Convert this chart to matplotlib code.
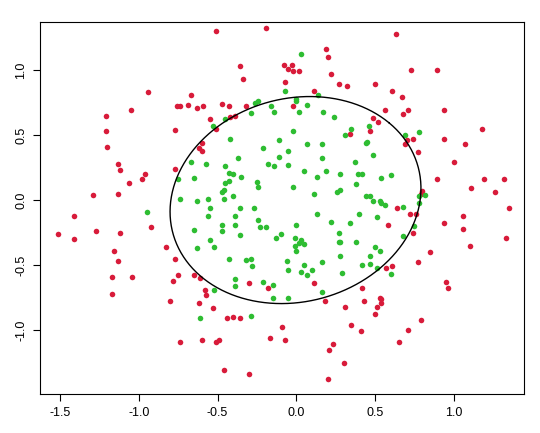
import matplotlib
matplotlib.use('Agg')
import matplotlib.pyplot as plt
import numpy as np

# points outside the fitted ellipse (red)
red_x = [-0.51, -0.19, -0.36, -0.34, -0.08, -0.05, -0.07, -0.94, -0.67, -0.76, -0.74, -0.69,
         -0.63, -0.59, -0.47, -0.43, -0.32, -0.39, -0.42, -0.55, -0.51, -1.05, -1.21, -1.21,
         -1.20, -0.77, -0.60, -0.62, -0.60, -1.13, -1.12, -0.96, -0.98, -1.06, -0.77, -1.29,
         -1.13,
         0.63, 0.19, 0.20, -0.03, -0.02, 0.02, 0.22, 0.73, 0.89, 0.27, 0.32, 0.50, 0.11, 0.61,
         0.67, -0.02, 0.56, 0.71, 0.68, 0.94, 0.49, 0.52, 0.47, 0.34, 1.18, 0.74, 0.70, 0.69,
         0.94, 1.07, 0.77, 1.00, 0.89, 1.19, 1.32, 1.11, 1.26, 0.80, 0.79, 1.35, 0.64,
         -1.41, -1.51, -1.41, -1.27, -1.12, -0.92, -1.16, -1.13, -1.17, -1.04, -1.17, -0.83,
         -0.77, -0.75, -0.78, -0.65, -0.61, -0.58, -0.57, -0.80, -0.62, -0.53, -0.44, -0.40,
         -0.36, -0.30, -0.18, -0.09, -0.17, -0.07, -0.74, -0.60, -0.51, -0.49, -0.46, -0.30,
         0.72, 0.76, 0.58, 0.74, 0.94, 1.06, 1.06, 1.33, 1.10, 0.85, 0.77, 0.61, 0.57, 0.11,
         0.95, 0.96, 0.42, 0.53, 0.54, 0.54, 0.43, 0.18, 0.31, 0.51, 0.50, 0.79, 0.35, 0.41,
         0.71, 0.65, 0.23, 0.21, 0.30, 0.20]
red_y = [1.30, 1.32, 1.03, 0.93, 1.04, 1.01, 0.91, 0.83, 0.81, 0.72, 0.72, 0.73,
         0.71, 0.72, 0.74, 0.72, 0.72, 0.65, 0.64, 0.62, 0.55, 0.69, 0.65, 0.53,
         0.41, 0.54, 0.44, 0.40, 0.38, 0.28, 0.23, 0.20, 0.16, 0.13, 0.24, 0.04,
         0.05,
         1.28, 1.16, 1.10, 1.04, 0.99, 0.99, 0.97, 1.00, 1.00, 0.89, 0.88, 0.89, 0.84, 0.84,
         0.79, 0.72, 0.69, 0.69, 0.66, 0.69, 0.63, 0.60, 0.53, 0.51, 0.55, 0.47, 0.46, 0.43,
         0.47, 0.43, 0.37, 0.29, 0.16, 0.16, 0.16, 0.09, 0.06, 0.07, 0.05, -0.06, -0.06,
         -0.12, -0.26, -0.30, -0.24, -0.25, -0.21, -0.39, -0.47, -0.59, -0.59, -0.72, -0.36,
         -0.45, -0.58, -0.62, -0.58, -0.60, -0.69, -0.73, -0.78, -0.79, -0.83, -0.91, -0.90,
         -0.91, -0.64, -0.68, -0.98, -1.06, -1.08, -1.09, -1.08, -1.09, -1.08, -1.31, -1.34,
         -0.11, -0.11, -0.19, -0.25, -0.18, -0.12, -0.22, -0.29, -0.35, -0.40, -0.48, -0.51,
         -0.52, -0.64, -0.63, -0.68, -0.68, -0.75, -0.76, -0.79, -0.78, -0.78, -0.82, -0.82,
         -0.88, -0.92, -0.96, -1.01, -1.00, -1.09, -1.11, -1.15, -1.25, -1.38]

# points inside the fitted ellipse (green)
green_x = [-0.07, -0.24, -0.26, -0.16, -0.14, -0.29, -0.45, -0.53, -0.42, -0.11, -0.21, -0.05,
           -0.37, -0.11, -0.18, -0.14, -0.05, -0.67, -0.57, -0.45, -0.43, -0.40, -0.35, -0.65,
           -0.75, -0.43, -0.45, -0.25, -0.24, -0.46, -0.47, -0.40, -0.46, -0.74, -0.63, -0.56,
           -0.55, -0.36, -0.27,
           0.03, 0.14, 0.00, 0.00, 0.07, 0.02, 0.17, 0.24, 0.35, 0.31, 0.46, 0.69, 0.78, 0.45,
           0.44, -0.02, 0.07, 0.16, 0.49, 0.16, 0.37, 0.05, 0.19, 0.13, 0.28, 0.39, 0.42, 0.54,
           0.60, 0.38, -0.02, 0.28, 0.26, 0.11, 0.44, 0.47, 0.49, 0.53, 0.54, 0.56, 0.68, 0.78,
           0.82, 0.78,
           -0.95, -0.56, -0.39, -0.47, -0.39, -0.47, -0.65, -0.36, -0.24, -0.23, -0.19, -0.10,
           -0.13, -0.55, -0.52, -0.63, -0.43, -0.32, -0.29, -0.28, -0.06, -0.05, -0.39, -0.39,
           -0.21, -0.15, -0.15, -0.05, -0.52, -0.61, -0.29,
           0.13, 0.40, 0.51, 0.00, 0.22, 0.34, 0.27, 0.75, 0.68, -0.01, 0.03, 0.05, 0.02, -0.01,
           0.00, 0.27, 0.28, 0.38, 0.50, 0.53, 0.28, 0.47, 0.16, 0.05, 0.03, 0.10, 0.07, 0.29,
           0.42, 0.47, 0.51, 0.60, 0.16]
green_y = [0.84, 0.76, 0.75, 0.72, 0.68, 0.67, 0.62, 0.57, 0.47, 0.46, 0.40, 0.38,
           0.32, 0.33, 0.28, 0.26, 0.27, 0.29, 0.28, 0.26, 0.21, 0.20, 0.18, 0.17,
           0.16, 0.15, 0.13, 0.14, 0.10, 0.08, 0.06, 0.03, 0.01, 0.01, -0.01, 0.01,
           -0.06, -0.06, -0.06,
           1.12, 0.81, 0.78, 0.76, 0.73, 0.68, 0.68, 0.64, 0.55, 0.50, 0.57, 0.50, 0.52, 0.45,
           0.44, 0.53, 0.43, 0.43, 0.35, 0.32, 0.29, 0.22, 0.22, 0.18, 0.20, 0.20, 0.20, 0.17,
           0.19, 0.12, 0.10, 0.08, 0.06, 0.05, 0.03, 0.03, -0.01, -0.01, -0.02, -0.04, -0.05, 0.03,
           0.04, -0.02,
           -0.09, -0.12, -0.12, -0.19, -0.19, -0.24, -0.23, -0.27, -0.15, -0.21, -0.21, -0.26,
           -0.29, -0.31, -0.36, -0.37, -0.45, -0.46, -0.45, -0.51, -0.47, -0.54, -0.61, -0.66,
           -0.63, -0.65, -0.75, -0.75, -0.69, -0.91, -0.89,
           -0.11, -0.11, -0.13, -0.19, -0.17, -0.18, -0.25, -0.20, -0.28, -0.29, -0.31, -0.34, -0.33, -0.35,
           -0.39, -0.32, -0.32, -0.32, -0.36, -0.39, -0.43, -0.43, -0.48, -0.50, -0.55, -0.54, -0.58, -0.56,
           -0.50, -0.49, -0.52, -0.57, -0.71]

# ellipse parameters: centre, semi-axes, rotation
cx, cy = -0.005, 0.0
semi_a, semi_b = 0.84, 0.75
angle = np.deg2rad(45)

plt.rcParams['font.family'] = ['Liberation Sans', 'DejaVu Sans']

fig = plt.figure(figsize=(5.4, 4.33), dpi=100)
ax = fig.add_axes([0.074, 0.090, 0.896, 0.859])

ax.scatter(red_x, red_y, s=16, color='#D81B3A', linewidths=0, zorder=2)
ax.scatter(green_x, green_y, s=16, color='#2EBD32', linewidths=0, zorder=2)

t = np.linspace(0, 2 * np.pi, 400)
ex = cx + semi_a * np.cos(t) * np.cos(angle) - semi_b * np.sin(t) * np.sin(angle)
ey = cy + semi_a * np.cos(t) * np.sin(angle) + semi_b * np.sin(t) * np.cos(angle)
ax.plot(ex, ey, color='black', linewidth=1.0, zorder=3)

ax.set_xlim(-1.627, 1.444)
ax.set_ylim(-1.492, 1.369)
ax.set_xticks([-1.5, -1.0, -0.5, 0.0, 0.5, 1.0])
ax.set_xticklabels(['-1.5', '-1.0', '-0.5', '0.0', '0.5', '1.0'])
ax.set_yticks([-1.0, -0.5, 0.0, 0.5, 1.0])
ax.set_yticklabels(['-1.0', '-0.5', '0.0', '0.5', '1.0'], rotation=90, va='center')
ax.tick_params(direction='out', length=5, labelsize=9, width=0.8, pad=4)
for sp in ax.spines.values():
    sp.set_linewidth(0.8)

fig.savefig('out.png', dpi=100)
